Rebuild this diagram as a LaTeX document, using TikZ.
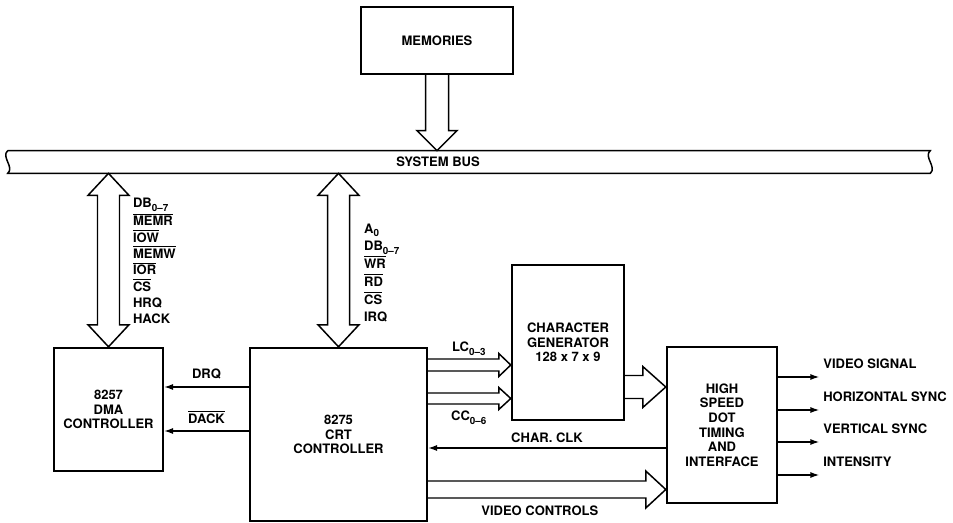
\documentclass[tikz,border=0pt]{standalone}
\usepackage{fontspec}
\setmainfont{TeX Gyre Heros}
\usetikzlibrary{calc,arrows.meta}

\tikzset{
  box/.style={rectangle, draw, line width=1.4pt, align=center, font=\bfseries\fontsize{7.4}{8.3}\selectfont},
  lbl/.style={font=\bfseries\fontsize{7.4}{8.3}\selectfont, inner sep=1pt},
  hollow/.style={line width=0.85pt, line join=miter},
  sig/.style={line width=0.7pt, -{Latex[length=5pt,width=3.4pt]}},
}

% signal name helpers
\newcommand{\ovl}[1]{$\overline{\hbox{#1}}$}
\newcommand{\lowidx}[1]{\raisebox{-0.5ex}{\fontsize{5.6}{6}\selectfont #1}}

% wide bus arrows
\newcommand{\hollowright}[5]{% start, tip, shaft half width, head half width, head length
  \draw[hollow] ($(#1)+(0,-#3)$) -- ($(#2)+(-#5,-#3)$) -- ($(#2)+(-#5,-#4)$) -- (#2)
    -- ($(#2)+(-#5,#4)$) -- ($(#2)+(-#5,#3)$) -- ($(#1)+(0,#3)$);}
\newcommand{\hollowdown}[2]{% start, tip
  \draw[hollow] ($(#1)+(-11.5,0)$) -- ($(#2)+(-11.5,-20)$) -- ($(#2)+(-20,-20)$) -- (#2)
    -- ($(#2)+(20,-20)$) -- ($(#2)+(11.5,-20)$) -- ($(#1)+(11.5,0)$);}
\newcommand{\hollowboth}[2]{% top tip, bottom tip
  \draw[hollow] (#1) -- ($(#1)+(20.5,22)$) -- ($(#1)+(11,22)$) -- ($(#2)+(11,-22)$) -- ($(#2)+(20.5,-22)$)
    -- (#2) -- ($(#2)+(-20.5,-22)$) -- ($(#2)+(-11,-22)$) -- ($(#1)+(-11,22)$) -- ($(#1)+(-20.5,22)$) -- cycle;}

\begin{document}
\begin{tikzpicture}[x=0.02cm, y=-0.02cm]
    \useasboundingbox (0,0) rectangle (953,523);

    % Memories and system bus
    \node[box, minimum width=3.04cm, minimum height=1.34cm] (mem) at (437,40.5) {MEMORIES};
    \node[rectangle, inner sep=0pt, minimum width=18.44cm, minimum height=0.44cm] (bus) at (469,162) {};
    \node[lbl] (buslbl) at (438,162) {SYSTEM BUS};
    \draw[hollow] (bus.north west) -- (bus.north east) .. controls +(-7,6) and +(7,-6) .. (bus.south east)
        -- (bus.south west) .. controls +(7,-6) and +(-7,6) .. (bus.north west);

    % Controllers
    \node[box, minimum width=2.18cm, minimum height=2.46cm] (dma) at (108.5,409.5) {8257\\DMA\\CONTROLLER};
    \node[box, minimum width=3.54cm, minimum height=3.46cm] (crt) at (338.5,434.5) {8275\\CRT\\CONTROLLER};
    \node[box, minimum width=2.24cm, minimum height=3.1cm] (cg) at (568,342.5) {CHARACTER\\GENERATOR\\128 x 7 x 9};
    \node[box, minimum width=2.2cm, minimum height=3.12cm] (hsdt) at (722,425) {HIGH\\SPEED\\DOT\\TIMING\\AND\\INTERFACE};

    % Bus connections
    \hollowdown{mem.south}{mem.south |- bus.north}
    \hollowboth{dma.north |- bus.south}{dma.north}
    \hollowboth{crt.north |- bus.south}{crt.north}
    \node[lbl, anchor=north west, align=left, font=\bfseries\fontsize{7.4}{9.3}\selectfont] (dmasig) at (131,196)
        {DB\lowidx{0--7}\\\ovl{MEMR}\\\ovl{IOW}\\\ovl{MEMW}\\\ovl{IOR}\\\ovl{CS}\\HRQ\\HACK};
    \node[lbl, anchor=north west, align=left, font=\bfseries\fontsize{7.4}{10.1}\selectfont] (crtsig) at (362,221.5)
        {A\lowidx{0}\\DB\lowidx{0--7}\\\ovl{WR}\\\ovl{RD}\\\ovl{CS}\\IRQ};

    % DMA handshake
    \coordinate (drq) at ($(crt.west)+(0,-47.5)$);
    \coordinate (dack) at ($(crt.west)+(0,-3.5)$);
    \draw[sig] (drq) -- (dma.east |- drq) node[lbl, midway, above=3pt] (drqlbl) {DRQ};
    \draw[sig] (dack) -- (dma.east |- dack) node[lbl, midway, above=3pt] (dacklbl) {\ovl{DACK}};

    % Character generator paths
    \coordinate (lc) at ($(cg.west)+(0,22.5)$);
    \coordinate (cc) at ($(cg.west)+(0,56)$);
    \hollowright{crt.east |- lc}{lc}{6}{11.5}{12}
    \hollowright{crt.east |- cc}{cc}{5.5}{11}{12}
    \node[lbl, anchor=base] (lclbl) at ($(lc)+(-42,-13)$) {LC\lowidx{0--3}};
    \node[lbl, anchor=base] (cclbl) at ($(cc)+(-42,22)$) {CC\lowidx{0--6}};
    \coordinate (dots) at ($(hsdt.west)+(0,-38)$);
    \hollowright{cg.east |- dots}{dots}{11.5}{20.5}{23}

    % Timing back to CRT
    \coordinate (clk) at ($(hsdt.west)+(0,23)$);
    \draw[sig] (clk) -- (crt.east |- clk) node[lbl, midway, above=1.5pt] (clklbl) {CHAR. CLK};
    \coordinate (vc) at ($(hsdt.west)+(0,64.5)$);
    \hollowright{crt.east |- vc}{vc}{8.5}{18.5}{20}
    \node[lbl, anchor=base] (vclbl) at ($(vc)+(-126,26)$) {VIDEO CONTROLS};

    % Outputs
    \foreach \dy/\txt [count=\i] in {-48/VIDEO SIGNAL, -15/HORIZONTAL SYNC, 17/VERTICAL SYNC, 50/INTENSITY} {
        \coordinate (out\i) at ($(hsdt.east)+(41,\dy)$);
        \draw[sig] (hsdt.east |- out\i) -- (out\i);
        \node[lbl, anchor=west] (outlbl\i) at ($(out\i)+(2,-13)$) {\txt};
    }
\end{tikzpicture}
\end{document}
